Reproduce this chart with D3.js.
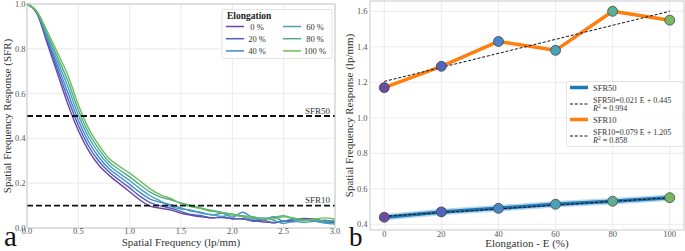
<!DOCTYPE html>
<html><head><meta charset="utf-8">
<script src="https://cdn.jsdelivr.net/npm/d3@7"></script>
<style>
html,body{margin:0;padding:0;background:#fff;}
svg{display:block;font-family:"Liberation Serif","Times New Roman",serif;}
</style></head>
<body><svg id="c" width="685" height="251"></svg>
<script>
// ---------- Panel a data ----------
const freq = [0.0,0.1,0.2,0.3,0.4,0.5,0.6,0.7,0.8,0.9,1.0,1.1,1.2,1.3,1.4,1.5,1.6,1.7,1.8,1.9,2.0,2.1,2.2,2.3,2.4,2.5,2.6,2.7,2.8,2.9,3.0];
const elongLabels = ["0 %","20 %","40 %","60 %","80 %","100 %"];
const sfrE0   = [1.0,0.955,0.820,0.685,0.550,0.435,0.345,0.280,0.235,0.198,0.162,0.125,0.098,0.088,0.080,0.066,0.057,0.050,0.046,0.047,0.043,0.040,0.034,0.027,0.025,0.030,0.036,0.043,0.040,0.030,0.022];
const sfrE20  = [1.0,0.957,0.831,0.704,0.576,0.458,0.365,0.298,0.250,0.213,0.179,0.142,0.113,0.099,0.088,0.074,0.060,0.055,0.045,0.050,0.040,0.042,0.030,0.035,0.022,0.030,0.028,0.038,0.030,0.035,0.025];
const sfrE40  = [1.0,0.959,0.842,0.723,0.602,0.481,0.385,0.316,0.265,0.229,0.195,0.159,0.129,0.115,0.104,0.090,0.075,0.070,0.058,0.066,0.048,0.070,0.045,0.035,0.050,0.030,0.042,0.038,0.032,0.025,0.030];
const sfrE60  = [1.0,0.961,0.853,0.742,0.628,0.504,0.405,0.334,0.280,0.244,0.212,0.176,0.144,0.120,0.095,0.085,0.080,0.065,0.060,0.052,0.060,0.050,0.040,0.045,0.035,0.020,0.030,0.025,0.030,0.022,0.018];
const sfrE80  = [1.0,0.963,0.864,0.761,0.654,0.527,0.425,0.352,0.295,0.260,0.228,0.193,0.160,0.138,0.126,0.112,0.100,0.088,0.078,0.070,0.062,0.055,0.050,0.042,0.048,0.055,0.040,0.032,0.038,0.030,0.035];
const sfrE100 = [1.0,0.965,0.875,0.780,0.680,0.550,0.445,0.370,0.310,0.275,0.245,0.210,0.175,0.148,0.132,0.108,0.095,0.086,0.074,0.068,0.058,0.052,0.048,0.042,0.040,0.050,0.045,0.035,0.040,0.045,0.040];
const curveColors = ["#6a45a3","#4f5fc2","#3f88d2","#45a2b5","#4caf8c","#6fbb5a"];
const thresholds = [0.5, 0.1];
const thresholdLabels = ["SFR50","SFR10"];
const xTicksA = [0,0.5,1.0,1.5,2.0,2.5,3.0];
const yTicksA = [0,0.2,0.4,0.6,0.8,1.0];

// ---------- Panel b data ----------
const elong = [0,20,40,60,80,100];
const sfr50 = [0.44,0.47,0.49,0.513,0.53,0.55];
const sfr10 = [1.17,1.29,1.43,1.38,1.60,1.55];
const markerColors = ["#6a4d9e","#4f65bd","#4a86c6","#4aa1b3","#5ead91","#78b865"];
const fitSlope = [0.021, 0.079];      // per 20 % step
const fitIntercept = [0.445, 1.205];
const fitR2 = ["0.994","0.858"];
const xTicksB = [0,20,40,60,80,100];
const yTicksB = [0.4,0.6,0.8,1.0,1.2,1.4,1.6];

const svg = d3.select("#c");
const GRID = "#e6e6e6", SPINE = "#c9c9c9", TICK = "#555", LAB = "#333";

// ================= Panel a =================
const xa = d3.scaleLinear().domain([0,3]).range([27,335]);
const ya = d3.scaleLinear().domain([0,1]).range([228,4]);
const ga = svg.append("g");
ga.selectAll(".gx").data(xTicksA).enter().append("line")
  .attr("x1",d=>xa(d)).attr("x2",d=>xa(d)).attr("y1",ya(0)).attr("y2",ya(1))
  .attr("stroke",GRID).attr("stroke-width",0.8);
ga.selectAll(".gy").data(yTicksA).enter().append("line")
  .attr("y1",d=>ya(d)).attr("y2",d=>ya(d)).attr("x1",xa(0)).attr("x2",xa(3))
  .attr("stroke",GRID).attr("stroke-width",0.8);

const series = [sfrE0,sfrE20,sfrE40,sfrE60,sfrE80,sfrE100];
const lineA = d3.line().x((d,i)=>xa(freq[i])).y(d=>ya(d)).curve(d3.curveMonotoneX);
series.forEach((s,k)=>{
  ga.append("path").attr("d",lineA(s)).attr("fill","none")
    .attr("stroke",curveColors[k]).attr("stroke-width",1.4);
});
thresholds.forEach((t,k)=>{
  ga.append("line").attr("x1",xa(0)).attr("x2",xa(3)).attr("y1",ya(t)).attr("y2",ya(t))
    .attr("stroke","#111").attr("stroke-width",1.8).attr("stroke-dasharray","6,3");
  ga.append("text").attr("x",xa(3)-5).attr("y",ya(t)-2.5).attr("text-anchor","end")
    .attr("font-size",9).attr("fill",LAB).text(thresholdLabels[k]);
});
ga.append("rect").attr("x",xa(0)).attr("y",ya(1)).attr("width",xa(3)-xa(0)).attr("height",ya(0)-ya(1))
  .attr("fill","none").attr("stroke",SPINE).attr("stroke-width",1);
ga.selectAll(".tx").data(xTicksA).enter().append("text")
  .attr("x",d=>xa(d)).attr("y",234).attr("text-anchor","middle")
  .attr("font-size",8.5).attr("fill",TICK).text(d=>d3.format(".1f")(d));
ga.selectAll(".ty").data(yTicksA).enter().append("text")
  .attr("x",25.5).attr("y",d=>ya(d)+3).attr("text-anchor","end")
  .attr("font-size",8.5).attr("fill",TICK).text(d=>d3.format(".1f")(d));
ga.append("text").attr("x",(xa(0)+xa(3))/2).attr("y",246).attr("text-anchor","middle")
  .attr("font-size",11).attr("fill",LAB).text("Spatial Frequency (lp/mm)");
ga.append("text").attr("transform",`translate(10.5,${(ya(0)+ya(1))/2}) rotate(-90)`)
  .attr("text-anchor","middle").attr("font-size",11).attr("fill",LAB)
  .text("Spatial Frequency Response (SFR)");
ga.append("text").attr("x",4).attr("y",246).attr("font-size",29).attr("fill","#111").text("a");

// legend a
const la = ga.append("g");
la.append("rect").attr("x",222).attr("y",9.5).attr("width",110).attr("height",49).attr("rx",2)
  .attr("fill","#fff").attr("fill-opacity",0.85).attr("stroke","#dcdcdc").attr("stroke-width",0.8);
la.append("text").attr("x",227).attr("y",18.5).attr("font-size",9.5).attr("font-weight","bold")
  .attr("fill","#222").text("Elongation");
elongLabels.forEach((lab,k)=>{
  const col = Math.floor(k/3), row = k%3;
  const x0 = col===0 ? 226 : 283, yy = 26.5 + row*12.2;
  la.append("line").attr("x1",x0).attr("x2",x0+18).attr("y1",yy).attr("y2",yy)
    .attr("stroke",curveColors[k]).attr("stroke-width",1.5);
  la.append("text").attr("x",col===0?257:315).attr("y",yy+3).attr("text-anchor","middle")
    .attr("font-size",8.5).attr("fill",LAB).text(lab);
});

// ================= Panel b =================
const xb = d3.scaleLinear().domain([-5,105]).range([370,684]);
const yb = d3.scaleLinear().domain([0.368,1.658]).range([230,1]);
const gb = svg.append("g");
gb.selectAll(".gx").data(xTicksB).enter().append("line")
  .attr("x1",d=>xb(d)).attr("x2",d=>xb(d)).attr("y1",yb.range()[0]).attr("y2",yb.range()[1])
  .attr("stroke",GRID).attr("stroke-width",0.8);
gb.selectAll(".gy").data(yTicksB).enter().append("line")
  .attr("y1",d=>yb(d)).attr("y2",d=>yb(d)).attr("x1",370).attr("x2",684)
  .attr("stroke",GRID).attr("stroke-width",0.8);

const lineB = d3.line().x((d,i)=>xb(elong[i])).y(d=>yb(d));
gb.append("path").attr("d",lineB(sfr50)).attr("fill","none")
  .attr("stroke","#9cc6e6").attr("stroke-width",6.5).attr("stroke-opacity",0.7);
gb.append("path").attr("d",lineB(sfr50)).attr("fill","none")
  .attr("stroke","#1f77b4").attr("stroke-width",3.5);
gb.append("path").attr("d",lineB(sfr10)).attr("fill","none")
  .attr("stroke","#ff7f0e").attr("stroke-width",3.5).attr("stroke-linejoin","round");
// fit lines (E counted in 20 % steps)
fitSlope.forEach((m,k)=>{
  const e0 = elong[0], e1 = elong[elong.length-1];
  gb.append("line").attr("x1",xb(e0)).attr("x2",xb(e1))
    .attr("y1",yb(fitIntercept[k]+m*e0/20)).attr("y2",yb(fitIntercept[k]+m*e1/20))
    .attr("stroke","#111").attr("stroke-width",1).attr("stroke-dasharray","3,1.8");
});
[sfr50,sfr10].forEach(s=>{
  gb.selectAll(null).data(s).enter().append("circle")
    .attr("cx",(d,i)=>xb(elong[i])).attr("cy",d=>yb(d)).attr("r",5)
    .attr("fill",(d,i)=>markerColors[i]).attr("stroke","#3a3a3a").attr("stroke-width",0.7);
});
gb.append("rect").attr("x",370).attr("y",1).attr("width",314).attr("height",229)
  .attr("fill","none").attr("stroke",SPINE).attr("stroke-width",1);
gb.selectAll(".tx").data(xTicksB).enter().append("text")
  .attr("x",d=>xb(d)).attr("y",237).attr("text-anchor","middle")
  .attr("font-size",8.5).attr("fill",TICK).text(d=>d);
gb.selectAll(".ty").data(yTicksB).enter().append("text")
  .attr("x",367.5).attr("y",d=>yb(d)+3).attr("text-anchor","end")
  .attr("font-size",8.5).attr("fill",TICK).text(d=>d3.format(".1f")(d));
gb.append("text").attr("x",(xb(-5)+xb(105))/2).attr("y",247).attr("text-anchor","middle")
  .attr("font-size",11).attr("fill",LAB).text("Elongation - E (%)");
gb.append("text").attr("transform",`translate(353,${(1+230)/2}) rotate(-90)`)
  .attr("text-anchor","middle").attr("font-size",11).attr("fill",LAB)
  .text("Spatial Frequency Response (lp/mm)");
gb.append("text").attr("x",349).attr("y",246).attr("font-size",27).attr("fill","#111").text("b");

// legend b
const lb = gb.append("g");
lb.append("rect").attr("x",566.5).attr("y",81.5).attr("width",116.5).attr("height",65).attr("rx",2)
  .attr("fill","#fff").attr("fill-opacity",0.85).attr("stroke","#dcdcdc").attr("stroke-width",0.8);
const legB = [
  {type:"solid", color:"#1f77b4", y:87.5, lines:["SFR50"]},
  {type:"dash", y:104, lines:[`SFR50=${fitSlope[0].toFixed(3)} E + ${fitIntercept[0].toFixed(3)}`, fitR2[0]]},
  {type:"solid", color:"#ff7f0e", y:119.5, lines:["SFR10"]},
  {type:"dash", y:136, lines:[`SFR10=${fitSlope[1].toFixed(3)} E + ${fitIntercept[1].toFixed(3)}`, fitR2[1]]}
];
legB.forEach(e=>{
  if(e.type==="solid"){
    lb.append("line").attr("x1",570).attr("x2",588).attr("y1",e.y).attr("y2",e.y)
      .attr("stroke",e.color).attr("stroke-width",3.5);
    lb.append("text").attr("x",593).attr("y",e.y+3).attr("font-size",8.5).attr("fill",LAB).text(e.lines[0]);
  } else {
    lb.append("line").attr("x1",570).attr("x2",588).attr("y1",e.y).attr("y2",e.y)
      .attr("stroke","#111").attr("stroke-width",1).attr("stroke-dasharray","3,1.8");
    lb.append("text").attr("x",593).attr("y",e.y-1.5).attr("font-size",8).attr("fill",LAB).text(e.lines[0]);
    const t = lb.append("text").attr("x",593).attr("y",e.y+6.8).attr("font-size",8).attr("fill",LAB);
    t.append("tspan").attr("font-style","italic").text("R");
    t.append("tspan").attr("font-size",5.5).attr("dy",-3).text("2");
    t.append("tspan").attr("dy",3).text(" = " + e.lines[1]);
  }
});
</script></body></html>
